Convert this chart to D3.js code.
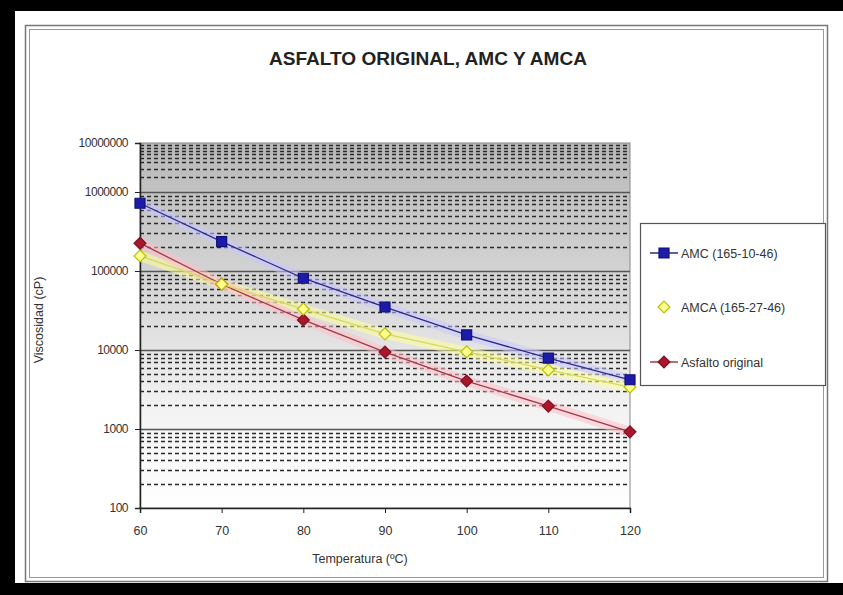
<!DOCTYPE html>
<html>
<head>
<meta charset="utf-8">
<script src="https://cdn.jsdelivr.net/npm/d3@7"></script>
<style>
  body { margin: 0; background: #000; }
  svg { display: block; font-family: "Liberation Sans", Arial, sans-serif; }
</style>
</head>
<body>
<svg id="chart" width="843" height="595"></svg>
<script>
// temperatures (ºC) and viscosities (cP)
const temps = [60, 70, 80, 90, 100, 110, 120];
const amc = [720000, 235000, 81000, 35000, 15500, 7900, 4200];
const amca = [155000, 68000, 33000, 16000, 9500, 5600, 3400];
const original = [225000, 68000, 24000, 9400, 4050, 1950, 920];

const seriesNames = ['AMC (165-10-46)', 'AMCA (165-27-46)', 'Asfalto original'];
const yTicks = [100, 1000, 10000, 100000, 1000000, 10000000];
const xTicks = [60, 70, 80, 90, 100, 110, 120];

const svg = d3.select('#chart');

// black scan edges + white page
svg.append('rect').attr('x', 0).attr('y', 0).attr('width', 843).attr('height', 595).attr('fill', '#000');
svg.append('rect').attr('x', 15).attr('y', 11).attr('width', 828).attr('height', 572).attr('fill', '#fff');

// double frame of the chart area
svg.append('rect').attr('x', 25.5).attr('y', 25.5).attr('width', 802).attr('height', 556)
    .attr('fill', 'none').attr('stroke', '#777').attr('stroke-width', 1.5);
svg.append('rect').attr('x', 29.5).attr('y', 29.5).attr('width', 794).attr('height', 548)
    .attr('fill', 'none').attr('stroke', '#999').attr('stroke-width', 1);

const plot = { left: 140, right: 630, top: 143, bottom: 508 };

const x = d3.scaleLinear()
    .domain([60, 120])
    .range([plot.left, plot.right]);

// the scanned picture squeezes the top decade, so the log scale is piecewise
const y = d3.scaleLog()
    .domain([100, 1000000, 10000000])
    .range([plot.bottom, 192, plot.top]);

// grey-to-white background
const defs = svg.append('defs');
const grad = defs.append('linearGradient').attr('id', 'bg')
    .attr('x1', 0).attr('y1', 0).attr('x2', 0).attr('y2', 1);
grad.append('stop').attr('offset', '0%').attr('stop-color', '#b8b8b8');
grad.append('stop').attr('offset', '45%').attr('stop-color', '#dadada');
grad.append('stop').attr('offset', '72%').attr('stop-color', '#f2f2f2');
grad.append('stop').attr('offset', '100%').attr('stop-color', '#ffffff');

svg.append('rect')
    .attr('x', plot.left).attr('y', plot.top)
    .attr('width', plot.right - plot.left).attr('height', plot.bottom - plot.top)
    .attr('fill', 'url(#bg)')
    .attr('stroke', '#888');

// minor dashed gridlines
const minor = [];
for (let k = 2; k <= 6; k++) {
    for (let m = 2; m <= 9; m++) minor.push(m * Math.pow(10, k));
}
svg.append('g').selectAll('line').data(minor)
    .enter().append('line')
    .attr('x1', plot.left).attr('x2', plot.right)
    .attr('y1', d => Math.round(y(d)) + 0.5).attr('y2', d => Math.round(y(d)) + 0.5)
    .attr('stroke', '#2a2a2a')
    .attr('stroke-width', 1.4)
    .attr('stroke-dasharray', '4,3');

// major gridlines
svg.append('g').selectAll('line').data(yTicks.slice(1, -1))
    .enter().append('line')
    .attr('x1', plot.left).attr('x2', plot.right)
    .attr('y1', d => Math.round(y(d)) + 0.5).attr('y2', d => Math.round(y(d)) + 0.5)
    .attr('stroke', '#555')
    .attr('stroke-width', 1.5);

// axes
const yAxis = svg.append('g')
    .attr('transform', 'translate(' + plot.left + ',0)')
    .call(d3.axisLeft(y).tickValues(yTicks).tickFormat(d3.format('d')).tickSize(5).tickPadding(7));
const xAxis = svg.append('g')
    .attr('transform', 'translate(0,' + plot.bottom + ')')
    .call(d3.axisBottom(x).tickValues(xTicks).tickSize(5).tickPadding(13));

[yAxis, xAxis].forEach(a => {
    a.select('.domain').attr('stroke', '#222').attr('stroke-width', 1.5);
    a.selectAll('.tick line').attr('stroke', '#222');
    a.selectAll('.tick text').attr('fill', '#333').attr('font-size', 12.5)
        .attr('font-family', '"Liberation Sans", Arial, sans-serif');
});
yAxis.selectAll('.tick text').attr('font-size', 12).attr('letter-spacing', -0.5);

// titles
svg.append('text')
    .attr('x', 428).attr('y', 65)
    .attr('text-anchor', 'middle')
    .attr('font-size', 18)
    .attr('font-weight', 'bold')
    .attr('fill', '#222')
    .attr('textLength', 318)
    .attr('lengthAdjust', 'spacingAndGlyphs')
    .text('ASFALTO ORIGINAL, AMC Y AMCA');

svg.append('text')
    .attr('x', 360).attr('y', 563)
    .attr('text-anchor', 'middle')
    .attr('font-size', 12.5)
    .attr('fill', '#333')
    .text('Temperatura (ºC)');

svg.append('text')
    .attr('transform', 'translate(43,' + 320 + ') rotate(-90)')
    .attr('text-anchor', 'middle')
    .attr('font-size', 12.5)
    .attr('fill', '#333')
    .text('Viscosidad (cP)');

const series = [
    { name: seriesNames[0], values: amc, line: '#2a2a8a', halo: '#c8c8ff', fill: '#1c1ca8', stroke: '#10107a', shape: 'square' },
    { name: seriesNames[1], values: amca, line: '#d8d860', halo: '#ffff9a', fill: '#ffff90', stroke: '#b8c000', shape: 'diamond' },
    { name: seriesNames[2], values: original, line: '#a03848', halo: '#ffc0c8', fill: '#a8182c', stroke: '#801020', shape: 'diamond' }
];

const line = d3.line()
    .x(d => x(d.t))
    .y(d => y(d.v));

function markerPath(shape) {
    if (shape === 'square') return d3.symbol(d3.symbolSquare, 100)();
    return d3.symbol(d3.symbolDiamond2, 90)();
}

// soft halos first, then lines, then markers
series.forEach(s => {
    const pts = temps.map((t, i) => ({ t: t, v: s.values[i] }));
    svg.append('path')
        .attr('d', line(pts))
        .attr('stroke', s.halo)
        .attr('stroke-opacity', 0.55)
        .attr('stroke-width', 10)
        .attr('fill', 'none');
});
series.slice().reverse().forEach(s => {
    const pts = temps.map((t, i) => ({ t: t, v: s.values[i] }));
    svg.append('path')
        .attr('d', line(pts))
        .attr('stroke', s.line)
        .attr('stroke-width', 1.3)
        .attr('fill', 'none');
    svg.append('g').selectAll('path').data(pts)
        .enter().append('path')
        .attr('d', markerPath(s.shape))
        .attr('transform', d => 'translate(' + x(d.t) + ',' + y(d.v) + ')')
        .attr('fill', s.fill)
        .attr('stroke', s.stroke)
        .attr('stroke-width', 1.2);
});

// legend
const legend = svg.append('g').attr('transform', 'translate(640,223)');
legend.append('rect')
    .attr('x', 0.5).attr('y', 0.5).attr('width', 185).attr('height', 162)
    .attr('fill', '#fff').attr('stroke', '#555').attr('stroke-width', 1.2);
const rows = [30, 84, 139];
series.forEach((s, i) => {
    const g = legend.append('g').attr('transform', 'translate(0,' + rows[i] + ')');
    if (i !== 1) {
        g.append('line').attr('x1', 10).attr('x2', 38).attr('y1', 0).attr('y2', 0)
            .attr('stroke', s.line).attr('stroke-width', 1.5);
    }
    g.append('path').attr('d', markerPath(s.shape))
        .attr('transform', 'translate(24,0)')
        .attr('fill', s.fill).attr('stroke', s.stroke).attr('stroke-width', 1.2);
    g.append('text')
        .attr('x', 41).attr('y', 4.5)
        .attr('font-size', 12.5)
        .attr('fill', '#333')
        .text(s.name);
});
</script>
</body>
</html>
